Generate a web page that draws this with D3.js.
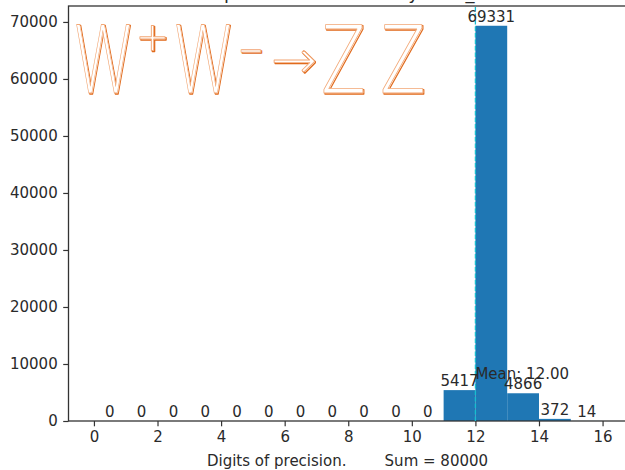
<!DOCTYPE html>
<html>
<head>
<meta charset="utf-8">
<script src="https://cdn.jsdelivr.net/npm/d3@7"></script>
<style>
  html, body { margin: 0; padding: 0; background: #fff; overflow: hidden; }
  svg { display: block; font-family: "DejaVu Sans", sans-serif; }
</style>
</head>
<body>
<svg id="chart" width="625" height="470"></svg>
<script>
// Histogram of digits of precision, one bin per integer digit count
const binStarts = [0, 1, 2, 3, 4, 5, 6, 7, 8, 9, 10, 11, 12, 13, 14, 15];
const counts    = [0, 0, 0, 0, 0, 0, 0, 0, 0, 0, 0, 5417, 69331, 4866, 372, 14];
const xTicks = [0, 2, 4, 6, 8, 10, 12, 14, 16];
const yTicks = [0, 10000, 20000, 30000, 40000, 50000, 60000, 70000];
const meanValue = 12.00;
const meanLabelY = 7350;
const totalLabel = "Sum = " + d3.sum(counts);
const titleText = "Comparison of the MEs by MG5_aMC";
const xLabelText = "Digits of precision.";

(function () {
const svg = d3.select("#chart");
const plotL = 68.5, plotR = 628, plotT = 6, plotB = 421;

const yMax = d3.max(counts) * 1.05;
const x = d3.scaleLinear().domain([-0.8, 16.8]).range([plotL, plotR]);
const y = d3.scaleLinear().domain([0, yMax]).range([plotB, plotT]);

const fs = 15;
const ink = "#2a2a2a";
const bins = binStarts.map((s, i) => ({ s, c: counts[i] }));

// bars
svg.append("g").selectAll("rect")
  .data(bins)
  .join("rect")
  .attr("x", d => x(d.s))
  .attr("width", d => x(d.s + 1) - x(d.s))
  .attr("y", d => y(d.c))
  .attr("height", d => y(0) - y(d.c))
  .attr("fill", "#1f77b4");

// frame
svg.append("rect")
  .attr("x", plotL).attr("y", plotT)
  .attr("width", plotR - plotL).attr("height", plotB - plotT)
  .attr("fill", "none").attr("stroke", "#333").attr("stroke-width", 1.3);

// axes
const xAxis = d3.axisBottom(x).tickValues(xTicks).tickFormat(d3.format("d"))
  .tickSize(5.3).tickPadding(5);
const gx = svg.append("g").attr("transform", `translate(0,${plotB})`).call(xAxis);
const yAxis = d3.axisLeft(y).tickValues(yTicks).tickFormat(d3.format("d"))
  .tickSize(5.3).tickPadding(5.5);
const gy = svg.append("g").attr("transform", `translate(${plotL},0)`).call(yAxis);
[gx, gy].forEach(g => {
  g.select(".domain").remove();
  g.selectAll("line").attr("stroke", "#333").attr("stroke-width", 1.2);
  g.selectAll("text").attr("fill", ink).attr("font-size", fs)
    .attr("font-family", "DejaVu Sans");
});

// mean line
svg.append("line")
  .attr("x1", x(meanValue)).attr("x2", x(meanValue))
  .attr("y1", y(0)).attr("y2", plotT)
  .attr("stroke", "#17becf").attr("stroke-width", 1.3)
  .attr("stroke-dasharray", "4.5,2");

// count labels above each bin
svg.append("g").selectAll("text")
  .data(bins)
  .join("text")
  .attr("x", d => x(d.s + 0.5))
  .attr("y", d => y(d.c) - 4)
  .attr("text-anchor", "middle")
  .attr("font-size", fs)
  .attr("fill", ink)
  .text(d => d.c);

svg.append("text")
  .attr("x", x(meanValue))
  .attr("y", y(meanLabelY))
  .attr("font-size", fs)
  .attr("fill", ink)
  .text("Mean: " + meanValue.toFixed(2));

// x label with the total
svg.append("text")
  .attr("x", 347.5)
  .attr("y", 466)
  .attr("text-anchor", "middle")
  .attr("font-size", fs)
  .attr("fill", ink)
  .attr("xml:space", "preserve")
  .text(xLabelText + "        " + totalLabel);

// title (sits above the top edge)
svg.append("text")
  .attr("x", (plotL + plotR) / 2)
  .attr("y", -1)
  .attr("text-anchor", "middle")
  .attr("font-size", 18)
  .attr("fill", ink)
  .text(titleText);

// process logo: outlined lettering
const logo = svg.append("g").attr("font-family", "'Open Sans', 'DejaVu Sans', sans-serif");
const glyphs = [
  { t: "W", x: 75,  y: 93, w: 56, size: 95 },
  { t: "+", x: 137, y: 57, w: 31, size: 54 },
  { t: "W", x: 175, y: 93, w: 56, size: 95 },
  { t: "\u2212", x: 239, y: 70, w: 24, size: 54 },
  { t: "\u2192", x: 271, y: 78, w: 46, size: 54 },
  { t: "Z", x: 321, y: 93, w: 45, size: 95 },
  { t: "Z", x: 380, y: 93, w: 46, size: 95 }
];
function drawLogo(dx, dy, stroke, sw) {
  logo.append("g").attr("transform", `translate(${dx},${dy})`)
    .selectAll("text").data(glyphs).join("text")
    .attr("x", d => d.x).attr("y", d => d.y)
    .attr("font-size", d => d.size)
    .attr("font-weight", 300)
    .attr("textLength", d => d.w)
    .attr("lengthAdjust", "spacingAndGlyphs")
    .attr("fill", "#fff")
    .attr("stroke", stroke)
    .attr("stroke-width", sw)
    .attr("stroke-linejoin", "round")
    .text(d => d.t);
}
drawLogo(1, 1, "#e06a1c", 1.3);
drawLogo(0, 0, "#f2a877", 0.9);
})();
</script>
</body>
</html>
